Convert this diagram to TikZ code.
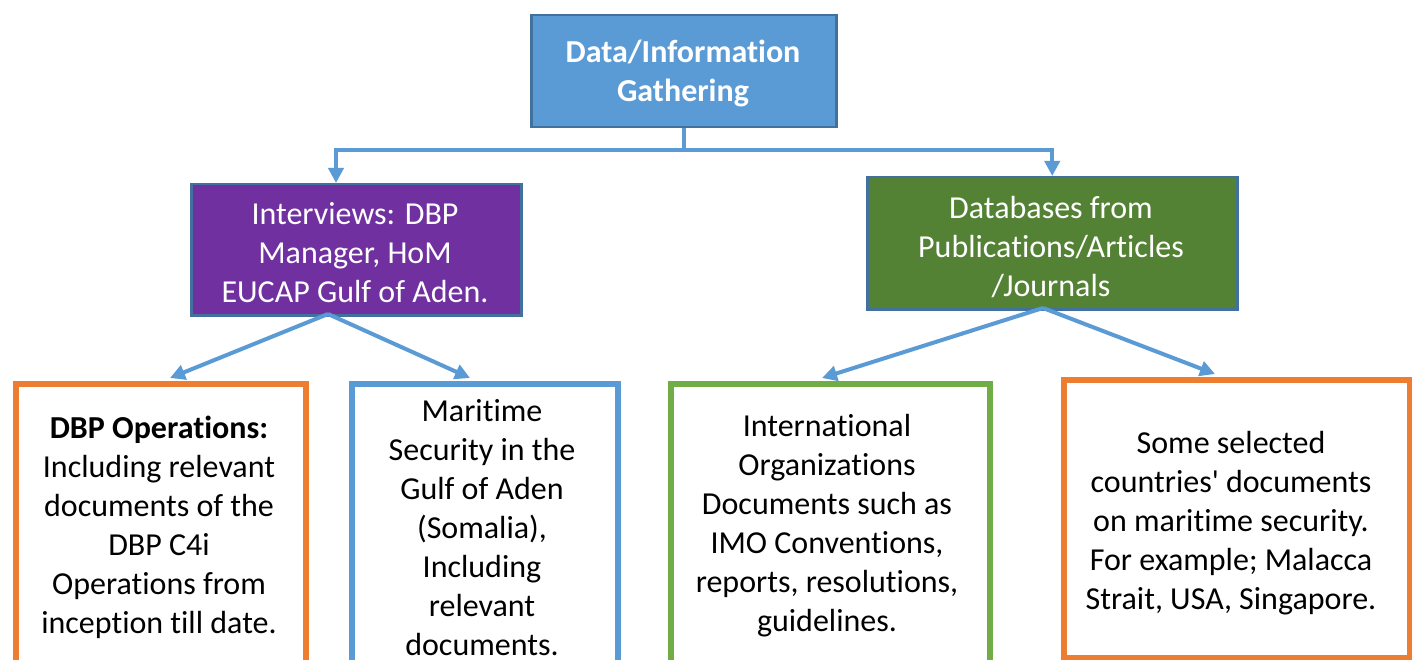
\documentclass[tikz,border=0pt]{standalone}
\usepackage{fontspec}
\setmainfont{Carlito}[Ligatures={NoCommon}]
\usetikzlibrary{arrows.meta,calc}
\definecolor{topfill}{HTML}{5B9BD5}
\definecolor{edgeblue}{HTML}{41719C}
\definecolor{purplefill}{HTML}{7030A0}
\definecolor{greenfill}{HTML}{548235}
\definecolor{linkblue}{HTML}{5B9BD5}
\definecolor{boxorange}{HTML}{ED7D31}
\definecolor{boxblue}{HTML}{5B9BD5}
\definecolor{boxgreen}{HTML}{70AD47}
\begin{document}
\begin{tikzpicture}[x=1pt,y=-1pt,
  bodyfont/.style={font=\fontsize{32}{39}\selectfont},
  headbox/.style={draw=edgeblue, line width=2.5pt, anchor=north west, inner sep=0pt},
  headtext/.style={align=center, text=white, inner sep=0pt, bodyfont},
  leafbox/.style={draw=#1, line width=6pt, fill=white, anchor=north west, inner sep=0pt},
  leaftext/.style={align=center, text=black, inner sep=0pt, bodyfont},
  link/.style={draw=linkblue, line width=4pt, -{Triangle[length=15pt,width=15pt]}},
]
\useasboundingbox (0,0) rectangle (1412,660);
\fill[white] (0,0) rectangle (1412,660);
\clip (0,0) rectangle (1412,660);

% top level
\node[headbox, fill=topfill, minimum width=305pt, minimum height=112pt] (src) at (530,14) {};
\node[headtext, font=\fontsize{32}{39}\selectfont\bfseries] (srctext) at (683,73)
  {Data/Information\\Gathering};

% second level
\node[headbox, fill=purplefill, minimum width=330pt, minimum height=131pt] (intv) at (190,183) {};
\node[headtext] (intvtext) at (355,252.5)
  {Interviews: DBP\\Manager, HoM\\EUCAP Gulf of Aden.};
\node[headbox, fill=greenfill, minimum width=370pt, minimum height=132pt] (dbase) at (866,176) {};
\node[headtext] (dbasetext) at (1051,247)
  {Databases from\\Publications/Articles\\/Journals};

% third level frames (running past the lower edge)
\node[leafbox=boxorange, minimum width=290pt, minimum height=320pt] (opsbox) at (13,381) {};
\node[leafbox=boxblue, minimum width=266pt, minimum height=320pt] (gulfbox) at (349,381) {};
\node[leafbox=boxgreen, minimum width=319pt, minimum height=320pt] (intlbox) at (668,381) {};
\node[leafbox=boxorange, minimum width=346pt, minimum height=278pt] (ctrybox) at (1061,377) {};

% third level texts
\node[leaftext] (opstext) at (159,527)
  {\textbf{DBP Operations:}\\Including relevant\\documents of the\\DBP C4i\\Operations from\\inception till date.};
\node[leaftext] (gulftext) at (482,528)
  {Maritime\\Security in the\\Gulf of Aden\\(Somalia),\\Including\\relevant\\documents.};
\node[leaftext] (intltext) at (827,526)
  {International\\Organizations\\Documents such as\\IMO Conventions,\\reports, resolutions,\\guidelines.};
\node[leaftext] (ctrytext) at (1231,523)
  {Some selected\\countries\textquotesingle{} documents\\on maritime security.\\For example; Malacca\\Strait, USA, Singapore.};

% connector anchor points
\coordinate (intvIn) at (336,183);
\coordinate (intvOut) at (328,314);
\coordinate (dbaseOut) at (1043,308);
\coordinate (opsIn) at (170,378);
\coordinate (gulfIn) at (470,378);
\coordinate (intlIn) at (822,378);
\coordinate (ctryIn) at (1215,374);

% connectors
\draw[link] (src.south) -- ++(0,22) -| (intvIn);
\draw[link] (src.south) -- ++(0,22) -| (dbase.north);
\draw[link] (intvOut) -- (opsIn);
\draw[link] (intvOut) -- (gulfIn);
\draw[link] (dbaseOut) -- (intlIn);
\draw[link] (dbaseOut) -- (ctryIn);
\end{tikzpicture}
\end{document}
